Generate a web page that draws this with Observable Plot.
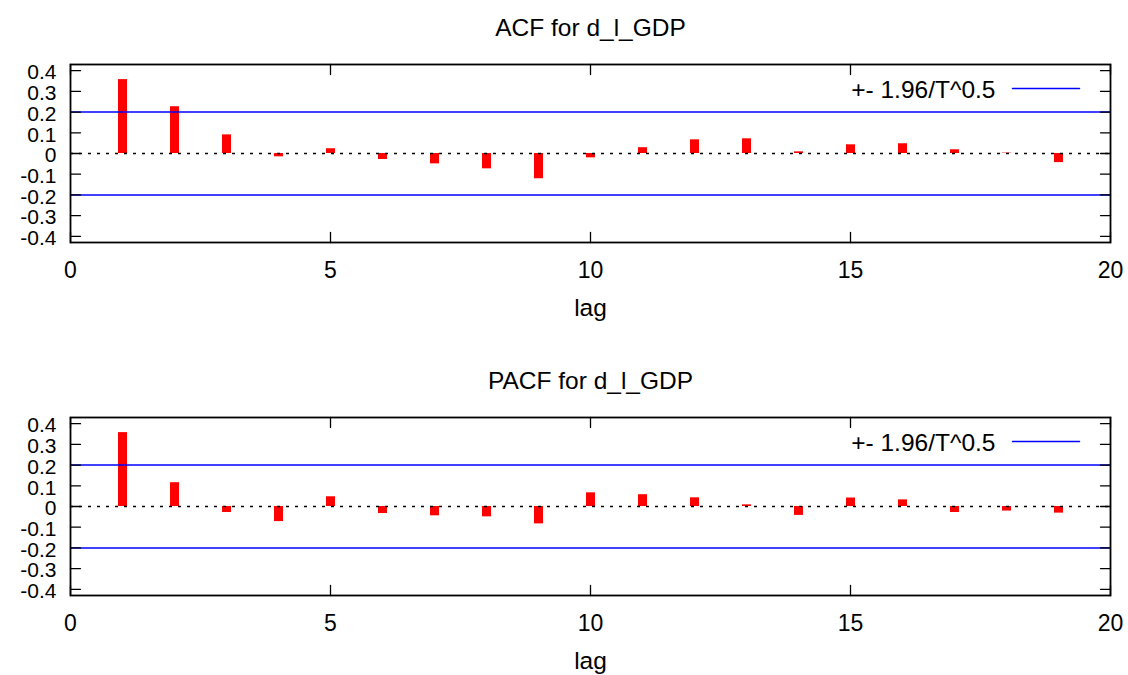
<!DOCTYPE html>
<html>
<head>
<meta charset="utf-8">
<script src="https://cdn.jsdelivr.net/npm/d3@7"></script>
<script src="https://cdn.jsdelivr.net/npm/@observablehq/plot@0.6"></script>
<style>
  html, body { margin: 0; padding: 0; background: #fff; overflow: hidden; }
  #chart svg { display: block; }
</style>
</head>
<body>
<div id="chart"></div>
<script>
const lags = [1, 2, 3, 4, 5, 6, 7, 8, 9, 10, 11, 12, 13, 14, 15, 16, 17, 18, 19];
const acfValues = [0.357, 0.226, 0.090, -0.016, 0.023, -0.029, -0.050, -0.074, -0.122, -0.021,
                   0.028, 0.066, 0.071, 0.008, 0.042, 0.047, 0.018, 0.002, -0.044];
const pacfValues = [0.357, 0.115, -0.029, -0.073, 0.047, -0.034, -0.045, -0.050, -0.084, 0.066,
                    0.057, 0.042, 0.008, -0.043, 0.041, 0.032, -0.029, -0.022, -0.032];
const bound = 0.201;
const xTicks = [0, 5, 10, 15, 20];
const xTickLabels = ["0", "5", "10", "15", "20"];
const yTicks = [-0.4, -0.3, -0.2, -0.1, 0, 0.1, 0.2, 0.3, 0.4];
const yTickLabels = ["-0.4", "-0.3", "-0.2", "-0.1", "0", "0.1", "0.2", "0.3", "0.4"];
const titles = ["ACF for d_l_GDP", "PACF for d_l_GDP"];
const legendLabel = "+- 1.96/T^0.5";
const xLabel = "lag";

const FONT = "'Liberation Sans', Arial, Helvetica, sans-serif";
const FS_T = 24.5;  // titles, legend, axis label
const FS_X = 23;    // x tick labels
const FS_Y = 21;    // y tick labels (tightly packed)
const tickShape = { draw(context, l) { context.moveTo(0, 0); context.lineTo(0, -l); } };

function panel(values, title, height, marginBottom) {
  const rows = lags.map((lag, i) => ({ lag, value: values[i] }));
  const xi = xTicks.map((v, i) => ({ v, label: xTickLabels[i] }));
  const yi = yTicks.map((v, i) => ({ v, label: yTickLabels[i] }));
  return Plot.plot({
    width: 1128,
    height,
    marginTop: 64,
    marginLeft: 70,
    marginRight: 18,
    marginBottom,
    style: { fontFamily: FONT, fontSize: FS_X + "px", background: "#fff", color: "#000" },
    x: { domain: [0, 20], axis: null },
    y: { domain: [-0.43, 0.43], axis: null },
    marks: [
      // bars (impulses)
      Plot.ruleX(rows, { x: "lag", y1: 0, y2: "value", stroke: "#ff0000", strokeWidth: 9 }),
      // zero line
      Plot.ruleY([0], { stroke: "#000", strokeWidth: 1.3, strokeDasharray: "3,6" }),
      // confidence bands
      Plot.ruleY([bound, -bound], { stroke: "#0000ff", strokeWidth: 1.5 }),
      // frame
      Plot.frame({ stroke: "#000", strokeWidth: 1.8 }),
      // inward ticks on all four sides
      Plot.vector(xi, { x: "v", frameAnchor: "bottom", length: 10, rotate: 0, anchor: "start", shape: tickShape, stroke: "#000", strokeWidth: 1.3 }),
      Plot.vector(xi, { x: "v", frameAnchor: "top", length: 10, rotate: 180, anchor: "start", shape: tickShape, stroke: "#000", strokeWidth: 1.3 }),
      Plot.vector(yi, { y: "v", frameAnchor: "left", length: 10, rotate: 90, anchor: "start", shape: tickShape, stroke: "#000", strokeWidth: 1.3 }),
      Plot.vector(yi, { y: "v", frameAnchor: "right", length: 10, rotate: -90, anchor: "start", shape: tickShape, stroke: "#000", strokeWidth: 1.3 }),
      // tick labels
      Plot.text(xi, { x: "v", text: "label", frameAnchor: "bottom", dy: 28, lineAnchor: "middle", fontSize: FS_X, fill: "#000" }),
      Plot.text(yi, { y: "v", text: "label", frameAnchor: "left", dx: -14, dy: 2, textAnchor: "end", lineAnchor: "middle", fontSize: FS_Y, fill: "#000" }),
      // axis label
      Plot.text([xLabel], { frameAnchor: "bottom", dy: 66, lineAnchor: "middle", text: d => d, fontSize: FS_T, fill: "#000" }),
      // title
      Plot.text([title], { frameAnchor: "top", dy: -36, lineAnchor: "middle", text: d => d, fontSize: FS_T, fill: "#000" }),
      // legend
      Plot.text([legendLabel], { frameAnchor: "top-right", dx: -115, dy: 26, textAnchor: "end", lineAnchor: "middle", text: d => d, fontSize: FS_T, fill: "#000" }),
      Plot.vector([legendLabel], { frameAnchor: "top-right", dx: -31, dy: 24, length: 67, rotate: -90, anchor: "start", shape: tickShape, stroke: "#0000ff", strokeWidth: 1.5 })
    ]
  });
}

const chart = document.getElementById("chart");
chart.appendChild(panel(acfValues, titles[0], 353, 111));
chart.appendChild(panel(pacfValues, titles[1], 322, 80));
</script>
</body>
</html>
